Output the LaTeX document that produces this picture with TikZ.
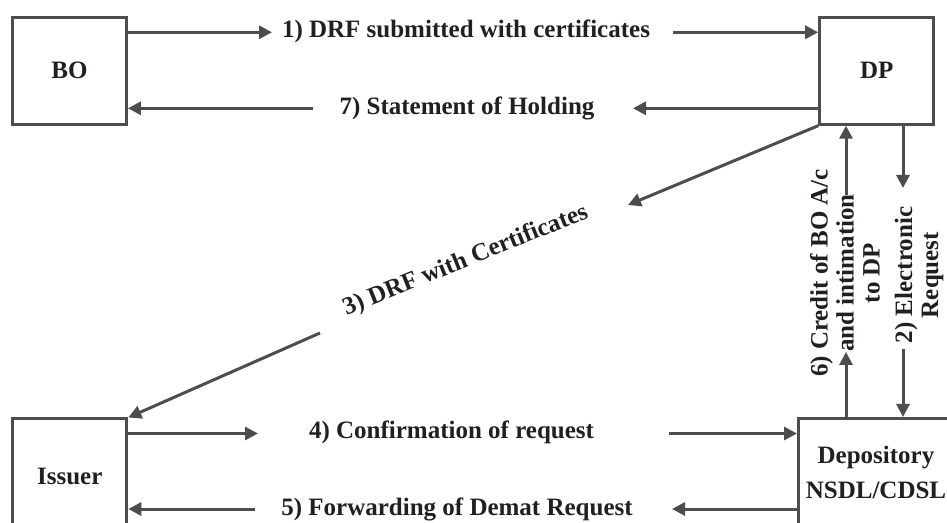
\documentclass[tikz,border=0pt]{standalone}
\usepackage{fontspec}
\setmainfont{Liberation Serif}
\usetikzlibrary{arrows.meta}
\definecolor{linegray}{RGB}{77,77,77}
\definecolor{textcol}{RGB}{35,31,32}
\begin{document}
\begin{tikzpicture}[x=1pt,y=1pt,
  box/.style={draw=linegray,line width=3pt,minimum width=114pt,minimum height=107pt,
    inner sep=0pt,align=center,text=textcol,font=\bfseries\fontsize{25}{35}\selectfont},
  lbl/.style={text=textcol,font=\bfseries\fontsize{25}{26}\selectfont,inner sep=0pt},
  arr/.style={draw=linegray,line width=3pt,-{Triangle[length=13pt,width=13pt]}}]
\useasboundingbox (0,0) rectangle (947,522);
\clip (0,0) rectangle (947,522);
% boxes
\node[box] (bo) at (69.4,451.3) {BO};
\node[box] (dp) at (876.7,451.3) {DP};
\node[box,minimum height=114pt] (iss) at (69.8,46) {Issuer};
\node[box,minimum width=155pt] (dep) at (876,50) {Depository\\NSDL/CDSL};
% labels
\node[lbl,anchor=base] (l1) at (466,484.3) {1) DRF submitted with certificates};
\node[lbl,anchor=base] (l7) at (467,407) {7) Statement of Holding};
\node[lbl,anchor=base,rotate=22] (l3) at (468,255.5) {3) DRF with Certificates};
\node[lbl,anchor=base] (l4) at (451.5,84) {4) Confirmation of request};
\node[lbl,anchor=base] (l5) at (457,7) {5) Forwarding of Demat Request};
\node[lbl,rotate=90,align=center] (l6) at (845,249) {6) Credit of BO A/c\\and intimation\\to DP};
\node[lbl,rotate=90,align=center] (l2) at (919,247) {2) Electronic\\Request};
% free ends
\coordinate (a1a) at (272,489.7);
\coordinate (a1b) at (673,489.7);
\coordinate (a7a) at (633,413.7);
\coordinate (a7b) at (313,413.7);
\coordinate (a3a) at (628,317);
\coordinate (a3b) at (320,189);
\coordinate (a4a) at (258,88.5);
\coordinate (a4b) at (669,88.5);
\coordinate (a5a) at (672,13);
\coordinate (a5b) at (255,13);
\coordinate (a6a) at (846,170);
\coordinate (a6b) at (846,327);
\coordinate (a2a) at (903,334);
\coordinate (a2b) at (903,173);
% connectors
\draw[arr] (bo.east |- a1a) -- (a1a);
\draw[arr] (a1b) -- (dp.west |- a1b);
\draw[arr] (dp.west |- a7a) -- (a7a);
\draw[arr] (a7b) -- (bo.east |- a7b);
\draw[arr] (dp.south west) -- (a3a);
\draw[arr] (a3b) -- (iss.north east);
\draw[arr] (iss.east |- a4a) -- (a4a);
\draw[arr] (a4b) -- (dep.west |- a4b);
\draw[arr] (dep.west |- a5a) -- (a5a);
\draw[arr] (a5b) -- (iss.east |- a5b);
\draw[arr] (dep.north -| a6a) -- (a6a);
\draw[arr] (a6b) -- (dp.south -| a6b);
\draw[arr] (dp.south -| a2a) -- (a2a);
\draw[arr] (a2b) -- (dep.north -| a2b);
\end{tikzpicture}
\end{document}
